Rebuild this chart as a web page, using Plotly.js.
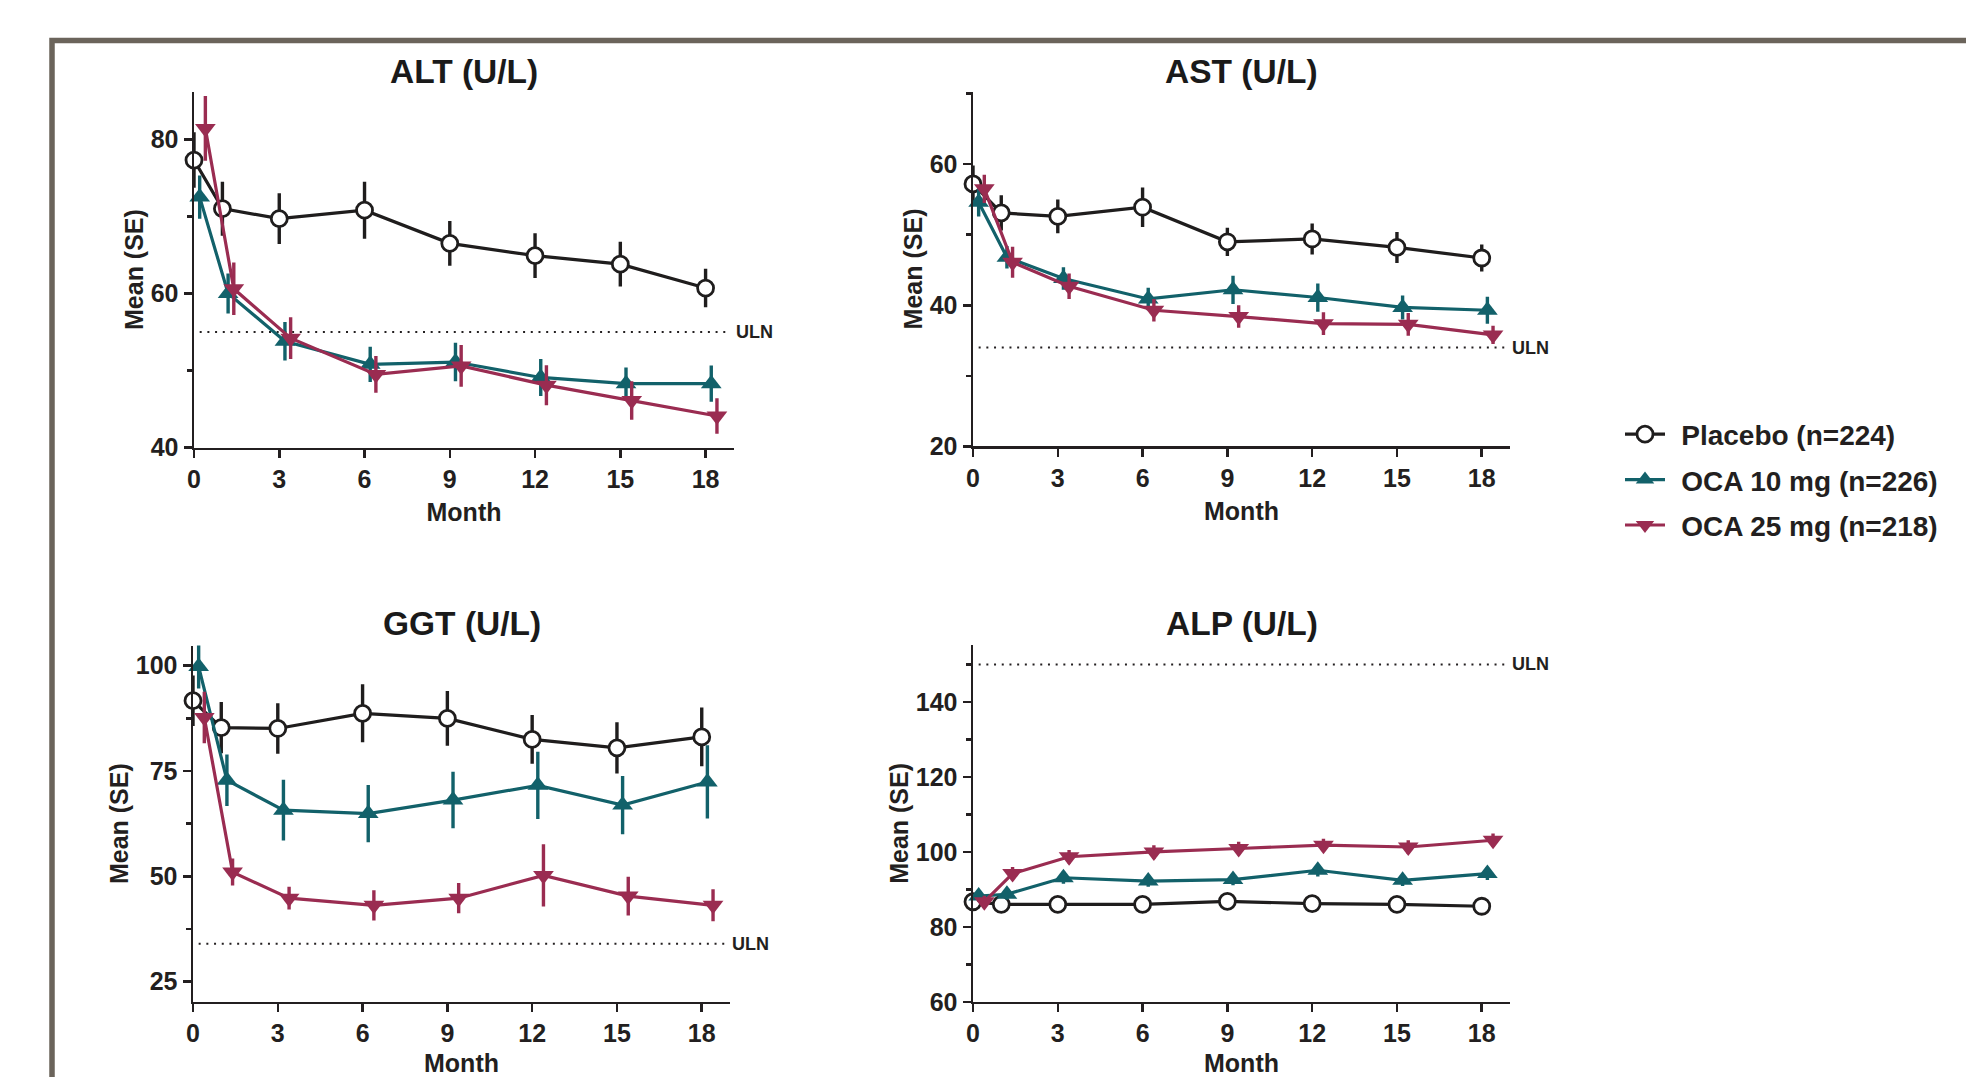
<!DOCTYPE html>
<html>
<head>
<meta charset="utf-8">
<script src="https://cdn.plot.ly/plotly-3.0.1.min.js"></script>
<style>
html,body{margin:0;padding:0;background:#ffffff;}
#chart{width:1966px;height:1077px;}
</style>
</head>
<body>
<div id="chart"></div>
<script>
// ---------------- data ----------------
var months = [0, 1, 3, 6, 9, 12, 15, 18];
var monthTicks = [0, 3, 6, 9, 12, 15, 18];
var seriesNames = ['Placebo (n=224)', 'OCA 10 mg (n=226)', 'OCA 25 mg (n=218)'];
var panelTitles = ['ALT (U/L)', 'AST (U/L)', 'GGT (U/L)', 'ALP (U/L)'];
var ulnValues = [55, 34, 34, 150];

var altPlacebo   = [77.3, 71.0, 69.7, 70.8, 66.5, 64.9, 63.8, 60.7];
var altPlaceboSE = [3.6, 3.5, 3.3, 3.7, 2.9, 2.9, 2.9, 2.5];
var altOca10     = [72.5, 60.0, 53.8, 50.8, 51.1, 49.1, 48.3, 48.3];
var altOca10SE   = [2.8, 2.6, 2.5, 2.3, 2.5, 2.4, 2.1, 2.35];
var altOca25     = [81.4, 60.6, 54.2, 49.5, 50.6, 48.1, 46.1, 44.1];
var altOca25SE   = [4.2, 3.4, 2.7, 2.4, 2.7, 2.6, 2.5, 2.3];

var astPlacebo   = [57.2, 53.1, 52.6, 53.9, 49.0, 49.4, 48.2, 46.7];
var astPlaceboSE = [2.6, 2.5, 2.4, 2.8, 2.0, 2.2, 2.2, 1.9];
var astOca10     = [54.6, 46.8, 43.8, 40.9, 42.2, 41.1, 39.7, 39.3];
var astOca10SE   = [2.0, 1.6, 1.6, 1.6, 2.0, 2.0, 1.7, 1.9];
var astOca25     = [56.5, 46.1, 42.7, 39.3, 38.4, 37.4, 37.3, 35.8];
var astOca25SE   = [2.0, 2.2, 1.8, 1.6, 1.6, 1.6, 1.6, 1.3];

var ggtPlacebo   = [91.7, 85.3, 85.1, 88.7, 87.5, 82.5, 80.5, 83.1];
var ggtPlaceboSE = [6.0, 6.1, 6.0, 6.9, 6.5, 5.8, 6.1, 7.0];
var ggtOca10     = [99.8, 72.8, 65.7, 64.9, 68.1, 71.6, 66.9, 72.4];
var ggtOca10SE   = [5.2, 6.1, 7.2, 6.8, 6.7, 8.0, 6.9, 8.7];
var ggtOca25     = [87.7, 51.0, 44.8, 43.1, 44.8, 50.2, 45.3, 43.1];
var ggtOca25SE   = [6.1, 3.2, 2.7, 3.6, 3.6, 7.4, 4.6, 3.8];

var alpPlacebo   = [86.7, 86.0, 86.0, 86.0, 86.8, 86.2, 86.0, 85.5];
var alpPlaceboSE = [1.0, 1.0, 1.0, 1.0, 1.0, 1.0, 1.0, 1.0];
var alpOca10     = [88.2, 88.7, 93.1, 92.2, 92.6, 95.1, 92.4, 94.2];
var alpOca10SE   = [1.5, 1.5, 1.6, 1.5, 1.5, 1.7, 1.5, 1.7];
var alpOca25     = [86.7, 94.2, 98.7, 100.0, 100.9, 101.8, 101.3, 103.1];
var alpOca25SE   = [1.6, 1.8, 1.8, 1.8, 1.8, 1.7, 1.8, 1.8];

// ---------------- style ----------------
var FONT = 'Liberation Sans, Arial, Helvetica, sans-serif';
var INK = '#231f20';
var LEGEND_PAD = '\u2009\u2009';
var seriesStyle = [
  {color: '#1f1d1d', symbol: 'circle', fill: '#ffffff', size: 16, lw: 2.8, offset: 0},
  {color: '#12616a', symbol: 'triangle-up', fill: '#12616a', size: 18, lw: 0, offset: 0.2},
  {color: '#9a2c51', symbol: 'triangle-down', fill: '#9a2c51', size: 18, lw: 0, offset: 0.4}
];

var panels = [
  {x: 'x',  y: 'y',  data: [[altPlacebo, altPlaceboSE], [altOca10, altOca10SE], [altOca25, altOca25SE]]},
  {x: 'x2', y: 'y2', data: [[astPlacebo, astPlaceboSE], [astOca10, astOca10SE], [astOca25, astOca25SE]]},
  {x: 'x3', y: 'y3', data: [[ggtPlacebo, ggtPlaceboSE], [ggtOca10, ggtOca10SE], [ggtOca25, ggtOca25SE]]},
  {x: 'x4', y: 'y4', data: [[alpPlacebo, alpPlaceboSE], [alpOca10, alpOca10SE], [alpOca25, alpOca25SE]]}
];

var traces = [];
panels.forEach(function (p, pi) {
  p.data.forEach(function (d, si) {
    var st = seriesStyle[si];
    traces.push({
      type: 'scatter', mode: 'lines+markers',
      xaxis: p.x, yaxis: p.y,
      x: months.map(function (m) { return m + st.offset; }),
      y: d[0],
      error_y: {type: 'data', array: d[1], visible: true, color: st.color, thickness: 3.4, width: 0},
      line: {color: st.color, width: 3.2},
      marker: {symbol: st.symbol, size: st.size, color: st.fill, line: {color: st.color, width: st.lw}},
      name: LEGEND_PAD + seriesNames[si],
      legendgroup: 'g' + si,
      showlegend: pi === 0,
      cliponaxis: false,
      hoverinfo: 'skip'
    });
  });
});

function xAxis(domain, anchor) {
  return {
    domain: domain, anchor: anchor, range: [0, 19],
    tickmode: 'array', tickvals: monthTicks, ticktext: monthTicks.map(String),
    showline: true, linecolor: INK, linewidth: 2.5,
    ticks: 'outside', ticklen: 8, tickwidth: 2.5, tickcolor: INK,
    showgrid: false, zeroline: false, fixedrange: true,
    tickfont: {family: FONT, size: 25, color: INK, weight: 700},
    title: {text: 'Month', font: {family: FONT, size: 25, color: INK, weight: 700}, standoff: 12}
  };
}
function yAxis(domain, anchor, range, tick0, dtick, minorD) {
  return {
    domain: domain, anchor: anchor, range: range,
    tickmode: 'linear', tick0: tick0, dtick: dtick,
    showline: true, linecolor: INK, linewidth: 2.5,
    ticks: 'outside', ticklen: 8, tickwidth: 2.5, tickcolor: INK,
    minor: {ticks: 'outside', ticklen: 5, tickwidth: 2.5, tickcolor: INK, dtick: minorD, tick0: 0, showgrid: false},
    showgrid: false, zeroline: false, fixedrange: true,
    tickfont: {family: FONT, size: 25, color: INK, weight: 700},
    title: {text: 'Mean (SE)', font: {family: FONT, size: 25, color: INK, weight: 700}, standoff: 0}
  };
}

var W = 1966, H = 1077;
function fx(px) { return px / W; }
function fy(px) { return 1 - px / H; }

var layout = {
  width: W, height: H,
  margin: {l: 0, r: 0, t: 0, b: 0},
  paper_bgcolor: '#ffffff', plot_bgcolor: 'rgba(0,0,0,0)',
  showlegend: true,
  legend: {
    x: fx(1620), y: fy(409.5), xanchor: 'left', yanchor: 'top',
    font: {family: FONT, size: 28, color: INK, weight: 700},
    bgcolor: 'rgba(0,0,0,0)', traceorder: 'grouped', tracegroupgap: 6,
    itemwidth: 40
  },
  xaxis:  xAxis([fx(194), fx(734)], 'y'),
  yaxis:  yAxis([fy(447.6), fy(91.5)], 'x', [40, 86.2], 40, 20, 10),
  xaxis2: xAxis([fx(973), fx(1510)], 'y2'),
  yaxis2: yAxis([fy(446.4), fy(91.5)], 'x2', [20, 70.3], 20, 20, 10),
  xaxis3: xAxis([fx(193), fx(730)], 'y3'),
  yaxis3: yAxis([fy(1001.8), fy(645.5)], 'x3', [20.2, 104.8], 0, 25, 12.5),
  xaxis4: xAxis([fx(973), fx(1510)], 'y4'),
  yaxis4: yAxis([fy(1001.8), fy(645)], 'x4', [60, 155.2], 0, 20, 10),
  shapes: [], annotations: []
};

// frame
layout.shapes.push({type: 'rect', xref: 'paper', yref: 'paper', x0: fx(52), x1: 1.02, y0: -0.02, y1: fy(40.5),
  line: {color: '#6b645b', width: 5.5}, fillcolor: 'rgba(0,0,0,0)', layer: 'below'});

var axPairs = [['x', 'y'], ['x2', 'y2'], ['x3', 'y3'], ['x4', 'y4']];
var titleCenters = [[464, 71.5], [1241.5, 71.5], [461.5, 623], [1241.5, 623]];
axPairs.forEach(function (ax, i) {
  layout.shapes.push({type: 'line', xref: ax[0], yref: ax[1], x0: 0.2, x1: 18.8, y0: ulnValues[i], y1: ulnValues[i],
    line: {color: INK, width: 2, dash: '2px,5.7px'}, layer: 'below'});
  layout.annotations.push({xref: ax[0], yref: ax[1], x: 19, y: ulnValues[i], xanchor: 'left', yanchor: 'middle',
    text: 'ULN', showarrow: false, font: {family: FONT, size: 18, color: INK, weight: 700}});
  layout.annotations.push({xref: 'paper', yref: 'paper', x: fx(titleCenters[i][0]), y: fy(titleCenters[i][1]),
    xanchor: 'center', yanchor: 'middle', text: panelTitles[i], showarrow: false,
    font: {family: FONT, size: 33.5, color: '#1a1a1a', weight: 700}});
});

Plotly.newPlot('chart', traces, layout, {staticPlot: true, displayModeBar: false});
</script>
</body>
</html>
